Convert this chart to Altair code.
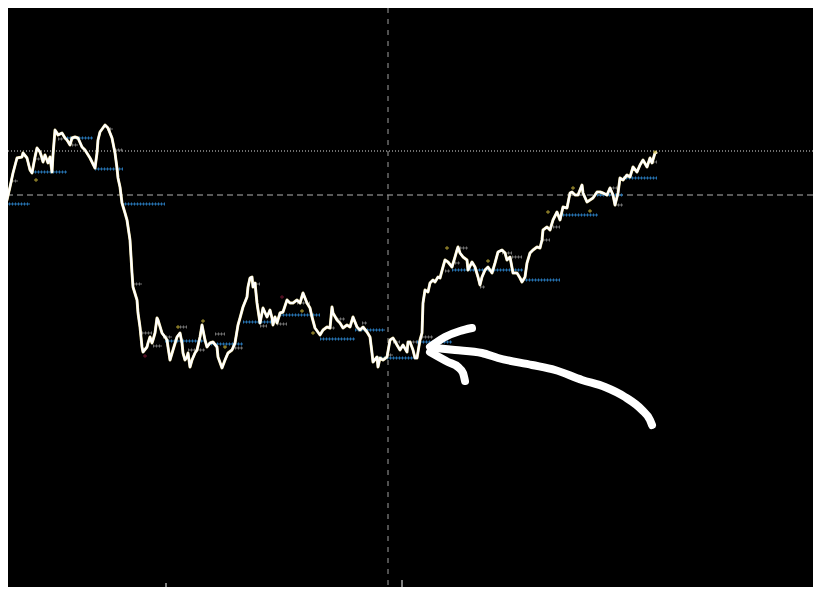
import altair as alt
import pandas as pd

# ---- price path (time position, price level; level grows downward on screen) ----
t = [0,3,7,10,13,17,22,23,27,30,32,35,37,40,42,43,45,48,50,52,53,55,57,58,62,65,67,70,72,75,78,82,85,90,95,97,98,100,105,108,112,115,117,118,120,122,125,127,130,132,133,137,138,140,142,143,147,148,150,152,153,155,157,158,162,165,167,168,170,173,177,180,182,183,185,187,188,190,192,195,197,200,202,203,205,207,210,213,217,218,222,225,228,232,235,238,240,243,247,248,250,252,253,255,257,260,263,267,270,272,273,275,277,280,283,287,290,293,297,300,303,307,310,312,315,320,323,327,330,332,333,337,340,343,347,350,353,357,360,363,367,370,372,373,377,378,380,383,387,390,393,397,400,403,407,408,410,413,415,417,420,422,423,425,428,430,433,435,438,440,443,445,448,452,455,457,458,460,463,467,468,472,475,478,480,482,485,488,492,495,498,502,505,507,510,513,517,520,522,525,527,530,533,537,540,542,543,547,550,553,557,560,563,567,570,572,575,578,582,583,587,590,593,597,600,603,607,610,613,615,618,620,623,627,630,633,637,640,643,647,650,652,655,657]
level = [205,208,200,187,173,158,157,153,158,170,173,157,148,152,158,162,155,163,157,172,155,130,133,135,133,138,140,145,138,137,138,147,150,158,168,153,140,132,125,128,138,153,168,178,187,203,213,220,240,273,287,300,313,327,347,352,347,343,337,343,340,333,318,320,333,337,340,347,360,350,337,333,343,353,360,357,353,367,360,353,350,337,325,330,340,347,343,342,347,357,368,360,353,350,343,325,318,307,297,287,278,277,287,283,303,323,308,317,310,318,325,317,323,313,312,300,303,303,300,303,293,303,308,317,328,335,330,327,328,307,313,320,323,328,325,327,317,327,330,327,332,337,353,362,357,367,358,360,357,340,338,345,350,345,352,342,342,350,358,358,340,333,303,290,292,283,280,282,277,278,267,260,262,267,257,250,247,253,257,260,270,262,267,277,285,277,270,267,273,263,252,250,253,260,257,273,273,278,282,277,263,253,250,247,248,240,230,227,230,220,212,220,207,208,193,192,195,195,185,193,202,200,198,192,192,193,195,188,195,205,193,178,180,175,177,167,172,165,160,167,158,163,153,152]

# ---- blue level segments (start, end, level) ----
blue_start = [0,32,67,95,122,165,205,243,280,320,355,378,417,452,520,560,597,623]
blue_end = [30,67,93,123,165,205,243,277,320,355,385,417,452,523,560,598,623,657]
blue_level = [204,172,138,169,204,341,344,322,315,339,330,358,342,270,280,215,195,178]

# ---- grey level segments ----
grey_start = [12,35,58,72,107,115,133,142,153,163,180,188,215,232,253,260,277,297,330,337,362,387,393,410,422,445,455,460,480,502,512,543,553,610,615,653]
grey_end = [18,43,63,78,113,123,142,152,162,172,187,205,225,243,260,267,287,310,335,345,367,393,400,420,433,450,460,468,485,512,522,550,560,617,623,657]
grey_level = [181,159,139,145,129,150,284,333,346,337,327,350,334,348,284,326,324,303,328,319,323,355,342,342,337,271,263,248,287,253,257,240,227,188,205,162]

# ---- small coloured markers ----
mark_t = [447,590,573,178,203,145,225,313,302,488,282,36,655,548]
mark_level = [248,211,188,327,321,356,347,333,311,261,297,180,152,212]
mark_kind = ["y","y","y","y","y","r","y","y","y","y","r","y","y","y"]

# ---- reference lines ----
dotted_level = [151]
dashed_level = [195]
cursor_t = [388]
tick_t = [166,249,402,579]
tick_top = [583,589,580,588]

# ---- hand-drawn arrow strokes ----
shaft_t = [435,455,482,498,532,555,582,605,625,642,650,652]
shaft_level = [348,350,353,358,365,370,380,387,397,410,420,425]
upper_t = [430,445,460,472]
upper_level = [347,337,331,328]
lower_t = [430,448,458,463,465]
lower_level = [352,362,367,373,381]

# the page keeps an 8px margin: the plot covers screen 8..813 x 8..587
W, H = 805, 579
xs = alt.Scale(domain=[8, 813], nice=False, zero=False)
ys = alt.Scale(domain=[8, 587], nice=False, zero=False, reverse=True)
X = lambda f: alt.X(f, scale=xs, axis=None)
Y = lambda f: alt.Y(f, scale=ys, axis=None)

price = pd.DataFrame({"t": t, "lvl": level, "i": range(len(t))})
blue = pd.DataFrame({"a": blue_start, "b": blue_end, "lvl": blue_level})
grey = pd.DataFrame({"a": grey_start, "b": grey_end, "lvl": grey_level})
marks = pd.DataFrame({"t": mark_t, "lvl": mark_level, "k": mark_kind})
rows = []
for name, tt, ll in (("shaft", shaft_t, shaft_level), ("upper", upper_t, upper_level), ("lower", lower_t, lower_level)):
    for j, (a, b) in enumerate(zip(tt, ll)):
        rows.append({"s": name, "t": a, "lvl": b, "o": j})
arrow = pd.DataFrame(rows)

dotted = alt.Chart(pd.DataFrame({"lvl": dotted_level})).mark_rule(
    color="#e0e0e0", strokeDash=[1, 2], strokeWidth=1).encode(y=Y("lvl:Q"))
dashed = alt.Chart(pd.DataFrame({"lvl": dashed_level})).mark_rule(
    color="#b0b0b0", strokeDash=[6, 4], strokeWidth=1).encode(y=Y("lvl:Q"))
cursor = alt.Chart(pd.DataFrame({"t": cursor_t})).mark_rule(
    color="#a0a0a0", strokeDash=[5, 6], strokeWidth=1).encode(x=X("t:Q"))
ticks = alt.Chart(pd.DataFrame({"t": tick_t, "top": tick_top, "bot": [595] * len(tick_t)})).mark_rule(
    color="#ffffff", strokeWidth=1, clip=True).encode(x=X("t:Q"), y=Y("top:Q"), y2="bot:Q")

def seg_layers(df, color):
    base = alt.Chart(df).encode(x=X("a:Q"), x2="b:Q", y=Y("lvl:Q"))
    return [base.mark_rule(color=color, strokeWidth=1, clip=True),
            base.mark_rule(color=color, strokeWidth=3, strokeDash=[1, 2], clip=True)]

grey_l = seg_layers(grey, "#707070")
blue_l = seg_layers(blue, "#2672b0")

line_under = alt.Chart(price).mark_line(color="#f3e6a8", strokeWidth=2.9, strokeJoin="round", clip=True).encode(
    x=X("t:Q"), y=Y("lvl:Q"), order="i:Q")
line_over = alt.Chart(price).mark_line(color="#ffffff", strokeWidth=2.1, strokeJoin="round", clip=True).encode(
    x=X("t:Q"), y=Y("lvl:Q"), order="i:Q")
pts = alt.Chart(marks).mark_point(shape="cross", size=14, filled=True, strokeWidth=0).encode(
    x=X("t:Q"), y=Y("lvl:Q"),
    color=alt.Color("k:N", scale=alt.Scale(domain=["y", "r"], range=["#c9b43a", "#7a1a34"]), legend=None))

arrow_l = alt.Chart(arrow).mark_line(color="#ffffff", strokeWidth=8, strokeCap="round",
                                     strokeJoin="round", interpolate="monotone").encode(
    x=X("t:Q"), y=Y("lvl:Q"), detail="s:N", order="o:Q")

chart = alt.layer(
    dotted, dashed, cursor, ticks, *grey_l, *blue_l, line_under, line_over, pts, arrow_l
).properties(
    width=W, height=H, background="#000000", padding=0,
    autosize=alt.AutoSizeParams(type="none"),
).configure_view(stroke=None)

chart.save("out.html", embed_options={"renderer": "svg", "actions": False})
